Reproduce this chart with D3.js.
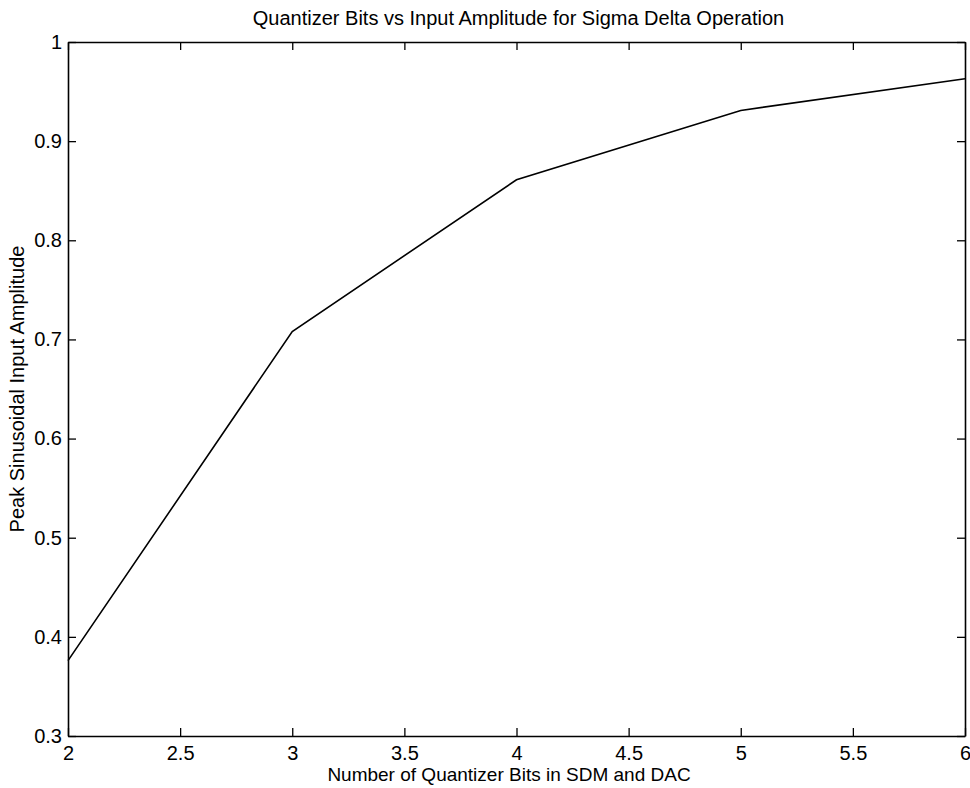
<!DOCTYPE html>
<html>
<head>
<meta charset="utf-8">
<script src="https://cdn.jsdelivr.net/npm/d3@7"></script>
<style>
  body { margin: 0; background: #fff; }
  svg text { font-family: "Liberation Sans", Arial, sans-serif; fill: #000; }
</style>
</head>
<body>
<div id="chart"></div>
<script>
// data
const bits = [2, 3, 4, 5, 6];
const amplitude = [0.376, 0.708, 0.861, 0.931, 0.963];
const xTicks = [2, 2.5, 3, 3.5, 4, 4.5, 5, 5.5, 6];
const yTicks = [0.3, 0.4, 0.5, 0.6, 0.7, 0.8, 0.9, 1];

const title = "Quantizer Bits vs Input Amplitude for Sigma Delta Operation";
const xLabel = "Number of Quantizer Bits in SDM and DAC";
const yLabel = "Peak Sinusoidal Input Amplitude";

(function () {
  const width = 970;
  const height = 788;
  const margin = { top: 42, right: 5, bottom: 52, left: 68 };
  const tick = 8;

  const svg = d3.select("#chart").append("svg")
    .attr("width", width).attr("height", height);

  const x = d3.scaleLinear().domain([2, 6])
    .range([margin.left, width - margin.right]);
  const y = d3.scaleLinear().domain([0.3, 1])
    .range([height - margin.bottom, margin.top]);

  const fmt = (d) => String(d);

  // bottom axis (ticks point inward)
  const gx = svg.append("g")
    .attr("transform", `translate(0, ${y(0.3)})`)
    .call(d3.axisBottom(x).tickValues(xTicks).tickFormat(fmt)
      .tickSizeInner(-tick).tickSizeOuter(0).tickPadding(10));
  // top mirror
  const gxt = svg.append("g")
    .attr("transform", `translate(0, ${y(1)})`)
    .call(d3.axisTop(x).tickValues(xTicks).tickFormat("")
      .tickSizeInner(-tick).tickSizeOuter(0));
  // left axis
  const gy = svg.append("g")
    .attr("transform", `translate(${x(2)}, 0)`)
    .call(d3.axisLeft(y).tickValues(yTicks).tickFormat(fmt)
      .tickSizeInner(-tick).tickSizeOuter(0).tickPadding(6));
  // right mirror
  const gyr = svg.append("g")
    .attr("transform", `translate(${x(6)}, 0)`)
    .call(d3.axisRight(y).tickValues(yTicks).tickFormat("")
      .tickSizeInner(-tick).tickSizeOuter(0));

  [gx, gxt, gy, gyr].forEach((g) => {
    g.select(".domain").attr("stroke", "#000").attr("stroke-width", 1.6);
    g.selectAll(".tick line").attr("stroke", "#000").attr("stroke-width", 1.3);
    g.selectAll(".tick text").style("font-size", "20px").attr("fill", "#000");
  });

  // the curve
  const line = d3.line()
    .x((d, i) => x(bits[i]))
    .y((d) => y(d));

  svg.append("path")
    .datum(amplitude)
    .attr("fill", "none")
    .attr("stroke", "#000")
    .attr("stroke-width", 1.6)
    .attr("d", line);

  // title and axis labels
  svg.append("text")
    .attr("x", (x(2) + x(6)) / 2 + 2)
    .attr("y", 25)
    .attr("text-anchor", "middle")
    .style("font-size", "20px")
    .text(title);

  svg.append("text")
    .attr("x", 509)
    .attr("y", 781)
    .attr("text-anchor", "middle")
    .style("font-size", "19px")
    .text(xLabel);

  svg.append("text")
    .attr("transform", `translate(24, ${(y(0.3) + y(1)) / 2}) rotate(-90)`)
    .attr("text-anchor", "middle")
    .style("font-size", "20px")
    .text(yLabel);
})();
</script>
</body>
</html>
